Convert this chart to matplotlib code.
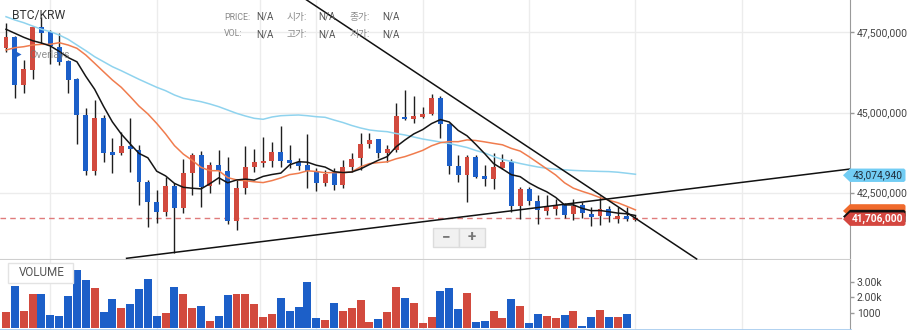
import numpy as np
import matplotlib
matplotlib.use("Agg")
import matplotlib.pyplot as plt
from matplotlib.patches import Polygon, Rectangle
from matplotlib.transforms import IdentityTransform

plt.rcParams['font.family'] = ['Roboto', 'Noto Sans CJK KR', 'DejaVu Sans']

# OHLC in thousands of KRW
opens = [47001, 47344, 45857, 46325, 47656, 47500, 47032, 46605, 46035, 44922,
         43186, 44819, 43759, 43747, 43956, 43831, 42843, 42220, 41908, 42709,
         42032, 43123, 43675, 42709, 43354, 43177, 41627, 42637, 43310, 43416,
         43498, 43769, 43529, 43466, 43363, 43136, 42793, 43155, 42740, 43310,
         43591, 44009, 44165, 43747, 43831, 44869, 44807, 44869, 44953, 45452,
         44626, 43332, 43052, 43604, 43021, 42927, 43270, 43457, 42076, 42606,
         42251, 41939, 42001, 42117, 41827, 42107, 41836, 41783, 42001, 41690,
         41774, 41649]
highs = [47799, 47385, 46637, 47696, 47986, 47572, 47469, 46637, 46060, 45131,
         45390, 44922, 44196, 44402, 44819, 43987, 42896, 42584, 42999, 42802,
         43541, 43728, 43809, 43457, 43831, 43604, 42896, 43965, 43853, 44246,
         44080, 44579, 43978, 43582, 44321, 43261, 43208, 43261, 43519, 43747,
         44352, 44352, 44180, 43987, 45305, 45701, 45514, 45162, 45567, 45514,
         44663, 43675, 43675, 43675, 43363, 43738, 43697, 43551, 42687, 42668,
         42419, 42419, 42313, 42170, 42294, 42220, 42045, 42397, 42086, 42045,
         42045, 41805]
lows = [46895, 45443, 45617, 46035, 47135, 46512, 46481, 45617, 44018, 43052,
        43052, 43466, 43105, 43675, 43155, 42117, 41421, 41546, 41774, 40611,
        41877, 42428, 42045, 42481, 42771, 41524, 41337, 42450, 43155, 43292,
        43292, 43292, 43261, 43208, 42637, 42553, 42709, 42584, 42637, 43155,
        43208, 43884, 43572, 43466, 43778, 44766, 44663, 44819, 44922, 44196,
        43092, 42843, 42220, 42949, 42709, 42615, 43250, 41908, 41680, 42117,
        41509, 41805, 41805, 41702, 41649, 41702, 41462, 41493, 41596, 41565,
        41627, 41627]
closes = [47344, 45857, 46347, 47656, 47469, 47073, 46584, 46013, 44922, 43186,
          44819, 43747, 43675, 43956, 43853, 42843, 42220, 41908, 42709, 42032,
          43105, 43675, 42687, 43354, 43186, 41627, 42647, 43292, 43457, 43488,
          43769, 43498, 43435, 43332, 43177, 42812, 43074, 42749, 43310, 43560,
          44009, 44143, 43747, 43853, 44891, 44788, 44891, 44953, 45452, 44626,
          43332, 43052, 43604, 42999, 42937, 43301, 43457, 42086, 42606, 42251,
          41951, 42045, 42086, 41805, 42086, 41858, 41752, 41992, 41774, 41774,
          41671, 41706]
volumes = [1084, 2761, 1129, 2245, 2245, 871, 806, 2116, 3773, 3128,
           2632, 1084, 1903, 1322, 1600, 2548, 3193, 806, 1019, 2696,
           2245, 1322, 1471, 503, 806, 2180, 2245, 2245, 1600, 742,
           955, 1987, 1129, 1406, 2999, 677, 548, 1664, 1129, 1322,
           1838, 439, 613, 1084, 2696, 1987, 1664, 374, 742, 2438,
           2612, 1258, 2309, 439, 503, 1129, 677, 1903, 1451, 374,
           935, 806, 677, 871, 1129, 161, 742, 1193, 761, 761,
           935, 40]

# moving averages (thousands of KRW)
ma7 = [47594, 47469, 47344, 47238, 47166, 47073, 46905, 46715, 46580, 46128,
       45723, 45193, 44707, 44330, 44021, 43725, 43588, 43170, 43024, 42790,
       42668, 42640, 42619, 42781, 42965, 42809, 42896, 42924, 42893, 43008,
       43067, 43111, 43370, 43466, 43451, 43357, 43298, 43155, 43127, 43145,
       43242, 43379, 43513, 43625, 43931, 44143, 44333, 44467, 44654, 44779,
       44704, 44442, 44274, 44003, 43716, 43407, 43239, 43061, 42999, 42806,
       42656, 42528, 42354, 42120, 42120, 42011, 41939, 41945, 41908, 41864,
       41842, 41789]
ma15 = [46948, 47020, 47051, 47104, 47126, 47126, 47176, 47104, 47001, 46792,
        46534, 46272, 46013, 45786, 45499, 45200, 44956, 44660, 44333, 43968,
        43703, 43510, 43289, 43186, 43186, 42971, 42899, 42874, 42840, 42815,
        42877, 42961, 43064, 43105, 43183, 43161, 43123, 43127, 43123, 43148,
        43307, 43407, 43438, 43463, 43557, 43625, 43719, 43819, 43962, 44059,
        44093, 44090, 44146, 44127, 44084, 44037, 43993, 43881, 43797, 43622,
        43432, 43242, 43052, 42809, 42640, 42541, 42453, 42347, 42266, 42188,
        42079, 41964]
ma_long = [47986, 47884, 47799, 47696, 47594, 47519, 47416, 47282, 47104, 46927,
           46739, 46584, 46428, 46303, 46169, 46035, 45910, 45786, 45680, 45546,
           45443, 45390, 45337, 45265, 45181, 45078, 44975, 44891, 44819, 44788,
           44860, 44900, 44913, 44922, 44900, 44869, 44850, 44766, 44688, 44595,
           44517, 44455, 44423, 44402, 44345, 44299, 44236, 44174, 44127, 44080,
           44034, 43971, 43909, 43816, 43738, 43628, 43535, 43473, 43410, 43354,
           43301, 43261, 43233, 43214, 43195, 43183, 43173, 43164, 43158, 43139,
           43108, 43074.94]

last_price = 41706000

# hand-drawn trend lines: (candle index, price)
trend_down = ([30.0, 77.9], [49226000, 40435000])
trend_up = ([13.6, 96.0], [40455000, 43265000])

price_ticks = [42500000, 45000000, 47500000]
vol_ticks = [1000, 2000, 3000]
vol_tick_labels = ['1000', '2.00k', '3.00k']
grid_x = [5, 17, 28.6, 35, 47, 59, 71, 83]

header_rows = [['PRICE:', '시가:', '종가:'], ['VOL:', '고가:', '저가:']]

RED = '#d24a3e'
BLUE = '#1c5fc8'

W, H = 912, 330
fig = plt.figure(figsize=(W / 100, H / 100), dpi=100)
ax = fig.add_axes([0, 70 / H, 850 / W, 260 / H])
axv = fig.add_axes([0, 0, 850 / W, 70 / H], sharex=ax)

x = np.arange(len(closes))
o = np.array(opens) * 1000.0
h = np.array(highs) * 1000.0
l = np.array(lows) * 1000.0
c = np.array(closes) * 1000.0
col = np.where(c >= o, RED, BLUE)

# candles
ax.vlines(x, l, h, color='#1e1e1e', lw=1, zorder=3)
ax.bar(x, np.maximum(np.abs(c - o), 30000), bottom=np.minimum(o, c),
       width=0.56, color=col, linewidth=0, zorder=4)

ax.plot(x, np.array(ma_long) * 1000, color='#8fd3ee', lw=1.1, zorder=5)
ax.plot(x, np.array(ma15) * 1000, color='#f07c4e', lw=1.1, zorder=5)
ax.plot(x, np.array(ma7) * 1000, color='#151515', lw=1.1, zorder=6)
ax.plot(*trend_down, color='#111111', lw=1.1, zorder=7)
ax.plot(*trend_up, color='#111111', lw=1.1, zorder=7)
ax.axhline(last_price, color='#e07b7b', lw=1, dashes=(4, 3), zorder=2)

ax.set_xlim(-0.677, 95.2)
ax.set_ylim(40402136, 48506856)

# volume
axv.bar(x, volumes, width=0.9, color=col, linewidth=0, zorder=3)
axv.set_ylim(-97, 4419)

for a in (ax, axv):
    a.set_facecolor('white')
    a.spines['top'].set_visible(False)
    a.spines['left'].set_visible(False)
    a.spines['right'].set_color('#9a9a9a')
    a.yaxis.tick_right()
    a.tick_params(axis='y', direction='out', length=3, width=1, color='#9a9a9a',
                  labelsize=7.5, labelcolor='#444444', pad=2)
    a.tick_params(axis='x', length=0, labelbottom=False)
    a.set_axisbelow(True)

ax.spines['bottom'].set_color('#cfcfcf')
ax.spines['bottom'].set_linewidth(1.5)
axv.spines['bottom'].set_color('#a9cdef')
axv.spines['bottom'].set_linewidth(2)

ax.set_xticks(grid_x)
ax.set_yticks(price_ticks)
ax.set_yticklabels([f'{v:,}' for v in price_ticks])
ax.grid(True, color='#ececec', lw=1)
axv.set_yticks(vol_ticks)
axv.set_yticklabels(vol_tick_labels)
axv.grid(True, axis='x', color='#ececec', lw=1)


def px(xp, yp):
    return xp / W, 1 - yp / H


def tag(price, text, face, tcolor, weight, z):
    yd = ax.transData.transform((0, price))[1] - 1
    hh = 6.7
    pts = [(843, yd), (850, yd + hh), (904, yd + hh), (905.5, yd + hh - 1.5),
           (905.5, yd - hh + 1.5), (904, yd - hh), (850, yd - hh)]
    fig.add_artist(Polygon(pts, closed=True, fc=face, ec='none',
                           transform=IdentityTransform(), zorder=z))
    if text:
        fig.text(878 / W, yd / H, text, ha='center', va='center', fontsize=7.3,
                 color=tcolor, weight=weight, zorder=z + 0.5)


tag(ma_long[-1] * 1000, f'{ma_long[-1] * 1000:,.0f}', '#72cdf4', '#1f2d3a', 'normal', 10)
tag(ma15[-1] * 1000, '', '#f06a2c', 'white', 'normal', 11)
tag(ma7[-1] * 1000, '', '#111111', 'white', 'normal', 12)
tag(last_price, f'{last_price:,}', '#d4463f', 'white', 'bold', 13)

# header
fig.text(*px(12, 15), 'BTC/KRW', fontsize=8.7, color='#333333', va='center')
fig.add_artist(Polygon([(17, H - 52), (17, H - 57), (21.5, H - 54.5)], closed=True,
                       fc='#2463c9', ec='none', transform=IdentityTransform(), zorder=8))
fig.text(*px(29, 54.5), 'Overlays', fontsize=7.7, color='#6f6f6f', alpha=0.75,
         va='center', zorder=9)

label_x = [224, 287, 350]
value_x = [256, 318, 382]
for row, yp in zip(header_rows, [17, 34]):
    for lab, lx, vx in zip(row, label_x, value_x):
        size = 6.3 if lab.isascii() else 7
        fig.text(*px(lx, yp), lab, fontsize=size, color='#8a8a8a', va='center')
        fig.text(*px(vx, yp), 'N/A', fontsize=7, color='#555555', va='center')

# volume panel caption
fig.add_artist(Rectangle((8, H - 283), 65, 20, fc='white', ec='#e3e3e3', lw=1,
                         transform=IdentityTransform(), zorder=8))
fig.text(*px(41.5, 273), 'VOLUME', fontsize=8.4, color='#555555',
         ha='center', va='center', zorder=9)

# zoom buttons
for bx, sym in [(433, '\u2212'), (459, '+')]:
    fig.add_artist(Rectangle((bx, H - 247), 26, 19, fc='#f1f1f1', ec='#dcdcdc',
                             lw=1, transform=IdentityTransform(), zorder=8))
    fig.text(*px(bx + 13, 237.5), sym, fontsize=11, color='#777777', weight='bold',
             ha='center', va='center', zorder=9)

fig.savefig('out.png', dpi=100)
